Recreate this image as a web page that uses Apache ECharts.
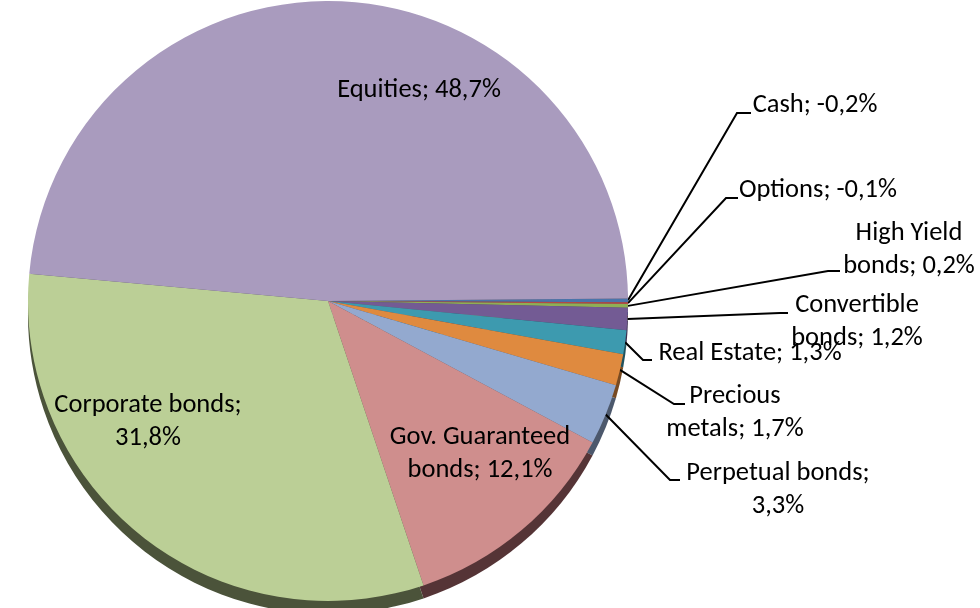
<!DOCTYPE html>
<html><head><meta charset="utf-8">
<script src="https://cdn.jsdelivr.net/npm/echarts@6/dist/echarts.min.js"></script>
<style>html,body{margin:0;padding:0;background:#fff}#c{width:980px;height:608px}</style>
</head><body><div id="c"></div>
<script>
// ---- data ----
const categories = ["Cash","Options","High Yield bonds","Convertible bonds","Real Estate","Precious metals","Perpetual bonds","Gov. Guaranteed bonds","Corporate bonds","Equities"];
const weights = [-0.2,-0.1,0.2,1.2,1.3,1.7,3.3,12.1,31.8,48.7];

// ---- styles ----
const colors = ["#4A74AA","#B54845","#8FAF55","#735B94","#3D9AAF","#DF8A3F","#93A9CF","#CF8E8D","#BBCF96","#A99BBE"];
const depthColors = ["#27405E","#5E2624","#4B5C2C","#3C3050","#21525E","#774A22","#4C586C","#553436","#4B533A","#554D60"];
const wrapNames = {"High Yield bonds":"High Yield\nbonds","Convertible bonds":"Convertible\nbonds","Precious metals":"Precious\nmetals","Gov. Guaranteed bonds":"Gov. Guaranteed\nbonds"};
const breakAfterSemicolon = ["Perpetual bonds","Corporate bonds"];
const insideLabels = ["Gov. Guaranteed bonds","Corporate bonds","Equities"];
// label anchors and leader-line bends (layout only)
const labelPlace = [
  {x:815,y:105,line:[[737,113],[751,113]]},
  {x:818,y:190,line:[[726,198],[738,198]]},
  {x:909,y:250,line:[[828,271],[840,271]]},
  {x:857,y:322,line:[[780,313],[788,313]]},
  {x:750,y:353,line:[[643,360],[652,360]]},
  {x:735,y:413,line:[[674,404],[685,404]]},
  {x:778,y:490,line:[[670,480],[680,480]]},
  {x:480,y:454},
  {x:148,y:422},
  {x:419,y:90}
];

const fmtPct = v => v.toFixed(1).replace('.', ',') + '%';
function labelText(i){
  const n = categories[i];
  const disp = wrapNames[n] || n;
  const sep = breakAfterSemicolon.includes(n) ? ";\n" : "; ";
  return disp + sep + fmtPct(weights[i]);
}

const CX = 328, CY = 301, R = 300, DEPTH = 13;
const font = {fontFamily:"Carlito, 'Open Sans', sans-serif", fontSize:26.5, color:"#000", lineHeight:33};

const mainData = categories.map((n,i)=>{
  const inside = insideLabels.includes(n);
  return {
    name:n, value:Math.abs(weights[i]),
    itemStyle:{color:colors[i]},
    label:Object.assign({show:true, position: inside?'inside':'outside', formatter:()=>labelText(i), align:'center'}, font),
    labelLine:{show:!inside, lineStyle:{color:'#000', width:2}, length:10, length2:10}
  };
});
const depthData = categories.map((n,i)=>({name:n, value:Math.abs(weights[i]), itemStyle:{color:depthColors[i]}}));

const chart = echarts.init(document.getElementById('c'), null, {renderer:'canvas'});
chart.setOption({
  animation:false,
  backgroundColor:'#fff',
  series:[
    {
      type:'pie', silent:true, z:1,
      center:[CX, CY+DEPTH], radius:R,
      startAngle:0.5, clockwise:true,
      label:{show:false}, labelLine:{show:false},
      data:depthData
    },
    {
      type:'pie', z:2,
      center:[CX, CY], radius:R,
      startAngle:0.5, clockwise:true,
      avoidLabelOverlap:false,
      itemStyle:{borderWidth:0},
      data:mainData,
      labelLayout:function(p){
        const pl = labelPlace[p.dataIndex];
        const out = {x:pl.x, y:pl.y, align:'center', verticalAlign:'middle'};
        if (pl.line && p.labelLinePoints) {
          out.labelLinePoints = [p.labelLinePoints[0], pl.line[0], pl.line[1]];
        }
        return out;
      }
    }
  ]
});
</script>
</body></html>
